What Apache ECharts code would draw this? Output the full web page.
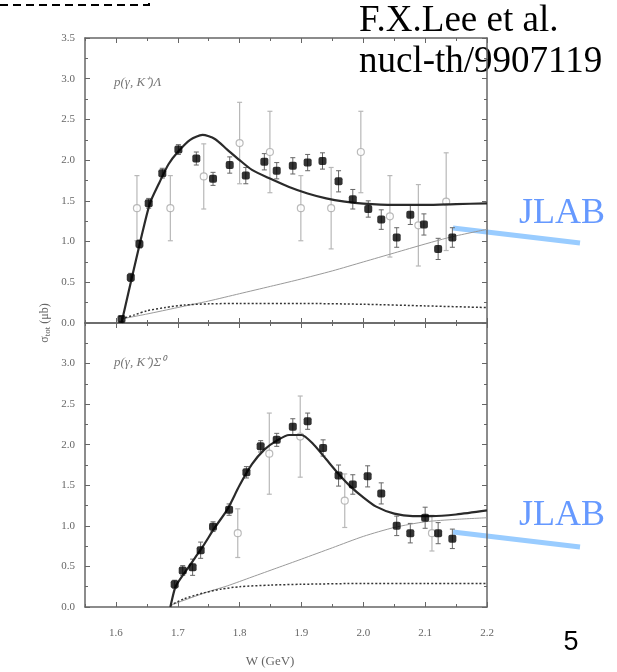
<!DOCTYPE html>
<html><head><meta charset="utf-8">
<script src="https://cdn.jsdelivr.net/npm/echarts@6/dist/echarts.min.js"></script>
<style>html,body{margin:0;padding:0;background:#fff}#c{width:617px;height:672px}</style>
</head><body><div id="c"></div>
<script>
// ---- axis ticks ----
const xMajorTicks = [1.6, 1.7, 1.8, 1.9, 2.0, 2.1, 2.2];
const xMinorTicks = [1.55, 1.65, 1.75, 1.85, 1.95, 2.05, 2.15];

// ---- p(gamma,K+)Lambda : filled data (with small errors) ----
const lamFilledW   = [1.609, 1.624, 1.638, 1.653, 1.675, 1.701, 1.730, 1.757, 1.784, 1.810, 1.840, 1.860, 1.886, 1.910, 1.934, 1.960, 1.983, 2.008, 2.029, 2.054, 2.076, 2.098, 2.121, 2.144];
const lamFilledSig = [0.05, 0.56, 0.97, 1.47, 1.84, 2.13, 2.02, 1.77, 1.94, 1.81, 1.98, 1.87, 1.93, 1.97, 1.99, 1.74, 1.52, 1.40, 1.27, 1.05, 1.33, 1.21, 0.91, 1.05];
const lamFilledErr = [0.03, 0.05, 0.05, 0.06, 0.06, 0.06, 0.08, 0.08, 0.10, 0.10, 0.10, 0.10, 0.10, 0.10, 0.10, 0.13, 0.12, 0.10, 0.12, 0.12, 0.12, 0.13, 0.13, 0.12];
// open data
const lamOpenW   = [1.634, 1.688, 1.742, 1.800, 1.849, 1.899, 1.948, 1.996, 2.043, 2.089, 2.134];
const lamOpenSig = [1.41, 1.41, 1.80, 2.21, 2.10, 1.41, 1.41, 2.10, 1.31, 1.20, 1.49];
const lamOpenErr = [0.40, 0.40, 0.40, 0.50, 0.50, 0.40, 0.50, 0.50, 0.50, 0.50, 0.60];
// model curves
const lamFullW   = [1.609, 1.615, 1.625, 1.640, 1.655, 1.670, 1.685, 1.700, 1.720, 1.740, 1.760, 1.780, 1.800, 1.820, 1.850, 1.880, 1.910, 1.940, 1.970, 2.000, 2.050, 2.100, 2.150, 2.200];
const lamFullSig = [0.00, 0.20, 0.53, 1.02, 1.47, 1.72, 1.95, 2.10, 2.25, 2.31, 2.26, 2.13, 2.00, 1.88, 1.77, 1.67, 1.59, 1.53, 1.49, 1.465, 1.45, 1.45, 1.46, 1.47];
const lamBgW     = [1.609, 1.650, 1.700, 1.750, 1.800, 1.850, 1.894, 1.950, 2.000, 2.050, 2.100, 2.144, 2.200];
const lamBgSig   = [0.05, 0.11, 0.19, 0.27, 0.36, 0.45, 0.53, 0.64, 0.75, 0.86, 0.97, 1.06, 1.15];
const lamDotW    = [1.609, 1.630, 1.650, 1.680, 1.710, 1.750, 1.800, 1.900, 2.000, 2.100, 2.200];
const lamDotSig  = [0.05, 0.10, 0.15, 0.19, 0.22, 0.235, 0.24, 0.24, 0.23, 0.21, 0.19];

// ---- p(gamma,K+)Sigma0 ----
const sigFilledW   = [1.695, 1.708, 1.724, 1.737, 1.757, 1.783, 1.811, 1.834, 1.860, 1.886, 1.910, 1.935, 1.960, 1.983, 2.007, 2.029, 2.054, 2.076, 2.100, 2.121, 2.144];
const sigFilledSig = [0.28, 0.45, 0.49, 0.70, 0.99, 1.20, 1.66, 1.98, 2.06, 2.22, 2.29, 1.96, 1.62, 1.51, 1.61, 1.40, 1.00, 0.91, 1.10, 0.91, 0.84];
const sigFilledErr = [0.05, 0.06, 0.10, 0.10, 0.06, 0.07, 0.07, 0.07, 0.08, 0.10, 0.10, 0.10, 0.13, 0.12, 0.13, 0.13, 0.12, 0.12, 0.13, 0.13, 0.12];
const sigOpenW   = [1.797, 1.848, 1.898, 1.970, 2.111];
const sigOpenSig = [0.91, 1.89, 2.10, 1.31, 0.91];
const sigOpenErr = [0.30, 0.50, 0.50, 0.33, 0.22];
const sigFullW   = [1.688, 1.695, 1.700, 1.720, 1.740, 1.760, 1.780, 1.800, 1.820, 1.840, 1.860, 1.880, 1.900, 1.920, 1.940, 1.960, 1.980, 2.000, 2.020, 2.050, 2.080, 2.110, 2.150, 2.200];
const sigFullSig = [0.00, 0.22, 0.30, 0.52, 0.74, 0.98, 1.20, 1.50, 1.76, 1.94, 2.05, 2.12, 2.12, 2.00, 1.82, 1.64, 1.48, 1.35, 1.24, 1.15, 1.12, 1.12, 1.14, 1.19];
const sigBgW     = [1.688, 1.720, 1.750, 1.780, 1.820, 1.860, 1.900, 1.950, 2.000, 2.050, 2.100, 2.150, 2.200];
const sigBgSig   = [0.02, 0.11, 0.19, 0.26, 0.37, 0.48, 0.59, 0.73, 0.87, 0.98, 1.05, 1.08, 1.10];
const sigDotW    = [1.688, 1.710, 1.740, 1.770, 1.800, 1.850, 1.900, 2.000, 2.100, 2.200];
const sigDotSig  = [0.02, 0.10, 0.17, 0.22, 0.25, 0.27, 0.28, 0.29, 0.29, 0.29];

// ---- build ----
const zip = (a, b) => a.map((v, i) => [v, b[i]]);
const errData = (w, s, e) => w.map((v, i) => [v, s[i] - e[i], s[i] + e[i]]);
const AX = '#666';
const labelFont = 'Liberation Serif';

function xAxesFor(g, labels) {
  const base = (pos, ticks, len, line, lab) => ({
    type: 'value', gridIndex: g, position: pos, min: 1.55, max: 2.2,
    axisLine: { show: line, onZero: false, lineStyle: { color: AX, width: 1.5 } },
    axisTick: { show: true, inside: true, length: len, customValues: ticks, lineStyle: { color: AX, width: 1 } },
    axisLabel: lab ? { show: true, customValues: xMajorTicks, formatter: v => v.toFixed(1), margin: 21,
      fontFamily: labelFont, fontSize: 11, color: '#666' } : { show: false },
    splitLine: { show: false }, minorTick: { show: false }
  });
  return [
    base('bottom', xMajorTicks, 5, true, labels),
    base('bottom', xMinorTicks, 3, false, false),
    base('top', xMajorTicks, 5, true, false),
    base('top', xMinorTicks, 3, false, false)
  ];
}
function yAxesFor(g, hideTop) {
  const base = (pos, lab) => ({
    type: 'value', gridIndex: g, position: pos, min: 0, max: 3.5, interval: 0.5,
    axisLine: { show: true, onZero: false, lineStyle: { color: AX, width: 1.5 } },
    axisTick: { show: true, inside: true, length: 5, lineStyle: { color: AX, width: 1 } },
    minorTick: { show: true, splitNumber: 2, length: 3, lineStyle: { color: AX, width: 1 } },
    axisLabel: lab ? { show: true, margin: 10, fontFamily: labelFont, fontSize: 11, color: '#666',
      formatter: v => (hideTop && v > 3.4) ? '' : v.toFixed(1) } : { show: false },
    splitLine: { show: false }
  });
  return [base('left', true), base('right', false)];
}

function errSeries(xi, yi, data, color, lw) {
  return {
    type: 'custom', xAxisIndex: xi, yAxisIndex: yi, data: data, encode: { x: 0, y: [1, 2] }, z: 2,
    renderItem: (params, api) => {
      const x = api.value(0), p1 = api.coord([x, api.value(2)]), p2 = api.coord([x, api.value(1)]);
      const w = 2.5, st = { stroke: color, lineWidth: lw };
      return { type: 'group', children: [
        { type: 'line', shape: { x1: p1[0], y1: p1[1], x2: p2[0], y2: p2[1] }, style: st },
        { type: 'line', shape: { x1: p1[0] - w, y1: p1[1], x2: p1[0] + w, y2: p1[1] }, style: st },
        { type: 'line', shape: { x1: p2[0] - w, y1: p2[1], x2: p2[0] + w, y2: p2[1] }, style: st }
      ]};
    }
  };
}
function lineSeries(xi, yi, data, color, width, type, z) {
  return { type: 'line', xAxisIndex: xi, yAxisIndex: yi, data: data, symbol: 'none', smooth: 0.25,
    lineStyle: { color: color, width: width, type: type }, z: z, silent: true };
}
function panelSeries(xi, yi, fW, fS, fE, oW, oS, oE, cW, cS, bW, bS, dW, dS) {
  return [
    lineSeries(xi, yi, zip(bW, bS), '#9a9a9a', 1, 'solid', 3),
    lineSeries(xi, yi, zip(dW, dS), '#333', 1.5, [2, 2], 3),
    errSeries(xi, yi, errData(oW, oS, oE), '#b8b8b8', 1.2),
    { type: 'scatter', xAxisIndex: xi, yAxisIndex: yi, data: zip(oW, oS), symbol: 'circle', symbolSize: 7,
      itemStyle: { color: '#fff', borderColor: '#aaa', borderWidth: 1.2 }, z: 4 },
    lineSeries(xi, yi, zip(cW, cS), '#2a2a2a', 2.2, 'solid', 5),
    errSeries(xi, yi, errData(fW, fS, fE), '#666', 1),
    { type: 'scatter', xAxisIndex: xi, yAxisIndex: yi, data: zip(fW, fS), symbol: 'roundRect', symbolSize: 8,
      itemStyle: { color: '#000' }, z: 6 }
  ];
}

const chart = echarts.init(document.getElementById('c'), null, { renderer: 'canvas' });
const blueText = '#6699ff', blueLine = '#99ccff';
chart.setOption({
  animation: false,
  backgroundColor: '#fff',
  grid: [
    { left: 85, top: 38, width: 402, height: 285 },
    { left: 85, top: 323, width: 402, height: 284 }
  ],
  xAxis: [...xAxesFor(0, false), ...xAxesFor(1, true)],
  yAxis: [...yAxesFor(0, false), ...yAxesFor(1, true)],
  series: [
    ...panelSeries(0, 0, lamFilledW, lamFilledSig, lamFilledErr, lamOpenW, lamOpenSig, lamOpenErr,
      lamFullW, lamFullSig, lamBgW, lamBgSig, lamDotW, lamDotSig),
    ...panelSeries(4, 2, sigFilledW, sigFilledSig, sigFilledErr, sigOpenW, sigOpenSig, sigOpenErr,
      sigFullW, sigFullSig, sigBgW, sigBgSig, sigDotW, sigDotSig)
  ],
  graphic: [
    { type: 'polyline', shape: { points: [[0, 5], [149, 5], [149, 0]] },
      style: { stroke: '#000', lineWidth: 2, lineDash: [8, 5], fill: null } },
    { type: 'text', x: 359, y: 21, style: { text: 'F.X.Lee et al.', font: '37px "Liberation Serif"', fill: '#000', textAlign: 'left', textVerticalAlign: 'middle' } },
    { type: 'text', x: 359, y: 62, style: { text: 'nucl-th/9907119', font: '37px "Liberation Serif"', fill: '#000', textAlign: 'left', textVerticalAlign: 'middle' } },
    { type: 'text', x: 519, y: 214, style: { text: 'JLAB', font: '36px "Liberation Serif"', fill: blueText, textAlign: 'left', textVerticalAlign: 'middle' } },
    { type: 'text', x: 519, y: 516, style: { text: 'JLAB', font: '36px "Liberation Serif"', fill: blueText, textAlign: 'left', textVerticalAlign: 'middle' } },
    { type: 'line', shape: { x1: 453, y1: 228, x2: 580, y2: 243 }, style: { stroke: blueLine, lineWidth: 5 } },
    { type: 'line', shape: { x1: 453, y1: 532, x2: 580, y2: 547 }, style: { stroke: blueLine, lineWidth: 5 } },
    { type: 'text', x: 571, y: 643, style: { text: '5', font: '27px "Liberation Sans"', fill: '#000', textAlign: 'center', textVerticalAlign: 'middle' } },
    { type: 'text', x: 114, y: 83, style: { text: 'p(γ, K⁺)Λ', font: 'italic 13px "Liberation Serif"', fill: '#777', textAlign: 'left', textVerticalAlign: 'middle' } },
    { type: 'text', x: 114, y: 363, style: { text: 'p(γ, K⁺)Σ⁰', font: 'italic 13px "Liberation Serif"', fill: '#777', textAlign: 'left', textVerticalAlign: 'middle' } },
    { type: 'text', x: 270, y: 662, style: { text: 'W (GeV)', font: '13px "Liberation Serif"', fill: '#666', textAlign: 'center', textVerticalAlign: 'middle' } },
    { type: 'text', x: 45, y: 323, rotation: Math.PI / 2,
      style: { text: '{a|σ}{b|tot}{a| (μb)}', textAlign: 'center', textVerticalAlign: 'middle',
        rich: { a: { fontFamily: 'Liberation Serif', fontSize: 12, fill: '#666', color: '#666' },
                b: { fontFamily: 'Liberation Serif', fontSize: 9, fill: '#666', color: '#666', verticalAlign: 'bottom', padding: [5, 0, 0, 0] } } } }
  ]
});
</script></body></html>
